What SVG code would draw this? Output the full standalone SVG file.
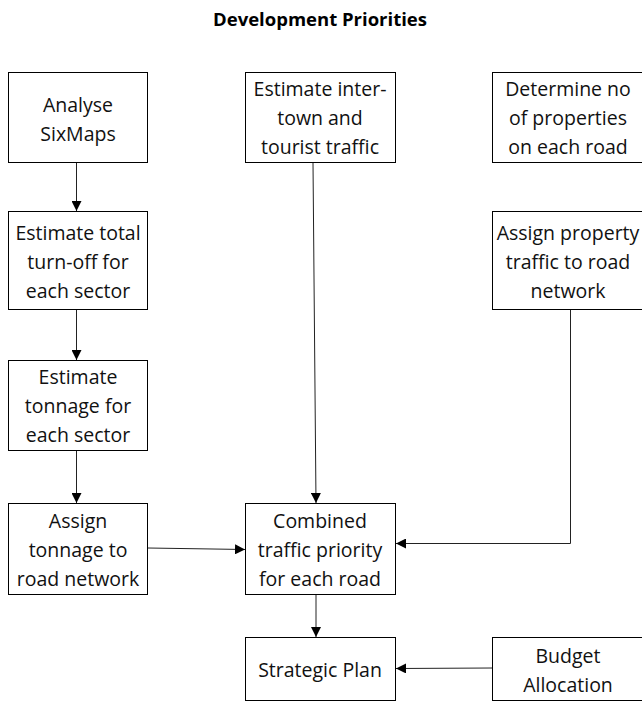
<svg xmlns="http://www.w3.org/2000/svg" width="642" height="702" viewBox="0 0 642 702">
<style>
.box{fill:#fff;stroke:#000;stroke-width:1}
.t{font-family:"Open Sans","Liberation Sans",Arial,sans-serif;font-size:19.5px;fill:#111;text-anchor:middle}
.title{font-family:"Open Sans","Liberation Sans",Arial,sans-serif;font-size:18.5px;font-weight:bold;fill:#000;text-anchor:middle}
.c{stroke:#222;stroke-width:1;fill:none;marker-end:url(#ah)}
</style>
<defs>
<marker id="ah" markerWidth="10" markerHeight="10" refX="10" refY="5" orient="auto" markerUnits="userSpaceOnUse">
<path d="M0,0 L10,5 L0,10 Z" fill="#000"/>
</marker>
</defs>
<rect width="642" height="702" fill="#fff"/>
<text class="title" x="320" y="26">Development Priorities</text>
<g id="analyse"><rect class="box" x="8.5" y="72.5" width="139" height="90"/><text class="t" x="78" y="111.5">Analyse</text><text class="t" x="78" y="140.5">SixMaps</text></g>
<g id="intertown"><rect class="box" x="245.5" y="72.5" width="150" height="90"/><text class="t" x="320" y="95.5">Estimate inter-</text><text class="t" x="320" y="124.5">town and</text><text class="t" x="320" y="153.5">tourist traffic</text></g>
<g id="determine"><rect class="box" x="492.5" y="72.5" width="152" height="90"/><text class="t" x="568" y="95.5">Determine no</text><text class="t" x="568" y="124.5">of properties</text><text class="t" x="568" y="153.5">on each road</text></g>
<g id="turnoff"><rect class="box" x="8.5" y="211.5" width="139" height="98"/><text class="t" x="78" y="239.5">Estimate total</text><text class="t" x="78" y="268.5">turn-off for</text><text class="t" x="78" y="297.5">each sector</text></g>
<g id="property"><rect class="box" x="492.5" y="211.5" width="152" height="98"/><text class="t" x="568" y="239.5">Assign property</text><text class="t" x="568" y="268.5">traffic to road</text><text class="t" x="568" y="297.5">network</text></g>
<g id="tonnage"><rect class="box" x="8.5" y="360.5" width="139" height="90"/><text class="t" x="78" y="383.5">Estimate</text><text class="t" x="78" y="412.5">tonnage for</text><text class="t" x="78" y="441.5">each sector</text></g>
<g id="assigntonnage"><rect class="box" x="8.5" y="503.5" width="139" height="91"/><text class="t" x="78" y="527.5">Assign</text><text class="t" x="78" y="556.5">tonnage to</text><text class="t" x="78" y="585.5">road network</text></g>
<g id="combined"><rect class="box" x="245.5" y="503.5" width="150" height="91"/><text class="t" x="320" y="527.5">Combined</text><text class="t" x="320" y="556.5">traffic priority</text><text class="t" x="320" y="585.5">for each road</text></g>
<g id="strategic"><rect class="box" x="245.5" y="637.5" width="150" height="63"/><text class="t" x="320" y="676.5">Strategic Plan</text></g>
<g id="budget"><rect class="box" x="492.5" y="637.5" width="152" height="63"/><text class="t" x="568" y="662.5">Budget</text><text class="t" x="568" y="691.5">Allocation</text></g>
<g id="connectors">
<line class="c" x1="76.5" y1="163" x2="76.5" y2="211"/>
<line class="c" x1="76.5" y1="310" x2="76.5" y2="360"/>
<line class="c" x1="76.5" y1="451" x2="76.5" y2="503"/>
<line class="c" x1="313" y1="163" x2="316" y2="503"/>
<line class="c" x1="148" y1="548" x2="245" y2="549.5"/>
<polyline class="c" points="570.5,310 570.5,543.5 396,543.5"/>
<line class="c" x1="316" y1="595" x2="316" y2="637"/>
<line class="c" x1="492" y1="668" x2="396" y2="668.5"/>
</g>
</svg>
